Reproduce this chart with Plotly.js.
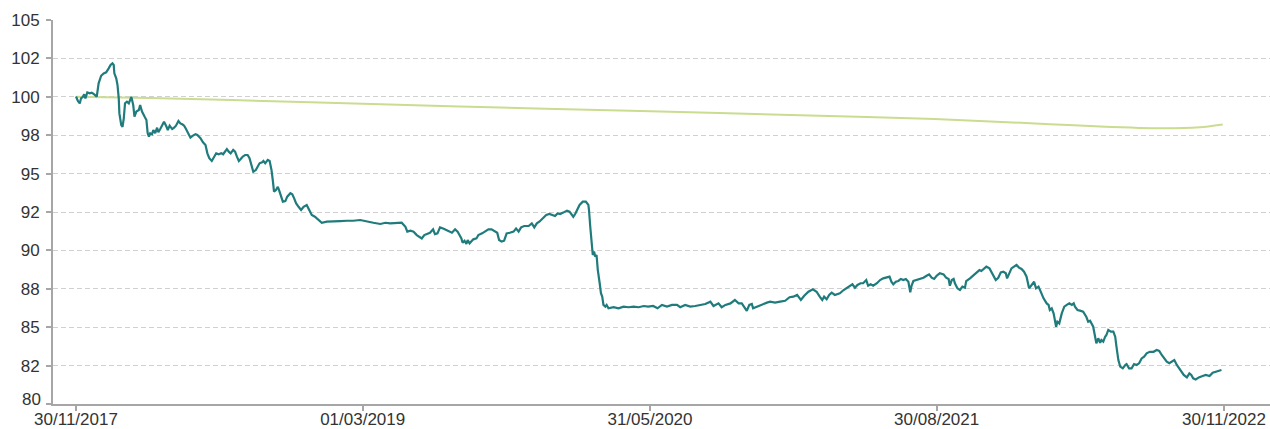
<!DOCTYPE html>
<html>
<head>
<meta charset="utf-8">
<script src="https://cdn.plot.ly/plotly-3.0.1.min.js"></script>
<style>html,body{margin:0;padding:0;background:#fff;}#chart{width:1270px;height:429px;}</style>
</head>
<body>
<div id="chart"></div>
<script>
// Days since 30/11/2017 for each reading of the fund line
const fundDays = [0,3,6,8,11,13,15,18,22,25,29,33,36,40,44,48,52,55,58,60,61,64,66,68,69,72,74,76,78,81,84,86,88,91,93,96,100,102,105,109,112,114,116,118,121,123,126,129,131,134,137,140,144,146,149,153,156,159,163,166,169,172,175,179,182,186,190,193,198,202,206,209,212,216,220,223,227,231,234,237,240,243,246,250,253,256,259,262,265,269,273,276,280,282,286,289,292,296,298,301,305,308,311,313,315,318,321,323,326,329,333,336,341,344,347,350,354,358,
362,367,371,375,380,386,391,399,410,420,431,441,452,463,473,484,492,500,510,518,524,527,532,537,542,546,550,554,558,563,568,571,575,579,584,589,594,598,603,607,610,613,615,618,621,623,626,629,632,637,640,646,651,656,661,667,670,673,677,681,685,690,696,700,704,708,713,720,725,729,733,737,743,748,753,758,762,766,770,775,781,785,789,791,794,797,801,806,811,815,816,818,820,822,824,826,828,830,833,835,837,839,842,844,847,855,863,871,879,887,895,903,910,918,925,932,940,948,956,961,969,977,985,993,1001,1009,1014,1022,1027,1033,1041,1048,1054,1059,1063,1067,1071,1075,1077,1083,1091,1099,1104,1112,1120,1128,1135,1141,1147,1153,1158,1165,1172,1178,1183,1187,1190,1194,1198,1202,1207,1213,
1215,1221,1226,1231,1235,1239,1243,1248,1252,1257,1260,1264,1268,1274,1279,1284,1290,1294,1297,1300,1304,1308,1312,1316,1320,1324,1327,1329,1332,1337,1342,1348,1353,1357,1361,1365,1369,1374,1380,1384,1388,1390,1393,1396,1398,1402,1406,1410,1414,1416,1422,1427,1432,1437,1440,1444,1448,1453,1456,1460,1463,1467,1471,1475,1479,1481,1485,1488,1492,1496,1500,1504,1508,1512,1516,1520,1524,1527,1531,1535,
1539,1544,1547,1549,1552,1555,1557,1559,1561,1564,1568,1572,1576,1580,1584,1587,1589,1593,1597,1602,1607,1610,1613,1615,1618,1621,1623,1626,1629,1631,1634,1637,1639,1642,1646,1650,1653,1655,1658,1661,1665,1669,1671,1675,1679,1683,1687,1691,1695,1699,1703,1708,1714,1719,1723,1727,1731,1735,1739,1743,1747,1751,1755,1759,1762,1767,1771,1774,1777,1781,1786,1792,1797,1803,1808,1813,1818,1822];
const fundValues = [100.02,99.73,99.57,99.9,100.0,100.16,99.9,100.29,100.23,100.27,100.16,100.01,100.88,101.37,101.52,101.59,101.85,102.07,102.18,102.07,101.53,101.2,100.77,99.9,98.92,98.16,98.05,98.6,99.58,99.68,99.57,99.79,100.0,99.47,98.71,99.04,99.14,99.47,99.04,98.71,98.49,97.63,97.41,97.63,97.57,97.84,97.63,97.99,97.69,97.9,98.16,98.38,98.05,97.84,98.12,97.9,97.99,98.12,98.42,98.27,98.21,98.12,97.9,97.63,97.34,97.47,97.56,97.51,97.3,97.04,96.86,96.32,96.0,95.82,96.1,96.32,96.26,96.32,96.26,96.43,96.6,96.43,96.32,96.54,96.43,96.1,95.82,95.95,96.1,96.21,96.21,96.0,95.45,95.12,95.23,95.45,95.67,95.73,95.82,95.67,95.89,95.82,95.23,94.58,93.82,93.93,94.14,93.93,93.6,93.17,93.21,93.5,93.72,93.65,93.39,93.07,92.84,92.63,
92.84,92.96,92.63,92.3,92.19,91.98,91.8,91.87,91.91,91.91,91.93,91.93,91.98,91.91,91.8,91.72,91.8,91.76,91.8,91.8,91.54,91.22,91.28,91.22,91.0,90.89,90.78,91.0,91.06,91.15,91.37,91.06,91.11,91.5,91.43,91.33,91.22,91.15,91.37,91.22,91.0,90.78,90.5,90.63,90.42,90.68,90.46,90.63,90.72,90.78,91.0,91.11,91.22,91.37,91.37,91.22,91.15,90.68,90.57,90.63,91.11,91.15,91.22,91.43,91.22,91.5,91.59,91.59,91.76,91.5,91.76,91.87,92.09,92.3,92.37,92.3,92.24,92.41,92.37,92.46,92.59,92.52,92.3,92.19,92.37,92.67,92.96,93.17,93.17,92.96,92.63,91.54,90.46,89.7,89.92,89.59,89.7,88.72,87.86,87.21,86.99,86.45,86.34,86.45,86.23,86.3,86.23,86.34,86.3,86.34,86.3,86.38,86.34,86.38,86.23,86.45,86.34,86.45,86.45,86.3,86.45,86.34,86.38,86.45,86.51,86.66,86.38,86.55,86.3,86.45,86.55,86.77,86.55,86.55,86.34,86.07,86.45,86.51,86.23,86.34,86.45,86.6,86.66,86.6,86.66,86.72,86.95,86.99,87.1,86.77,87.03,87.31,87.47,87.31,86.99,86.77,86.99,86.82,87.1,87.25,87.1,87.21,
87.21,87.42,87.57,87.7,87.79,87.57,87.75,87.86,87.86,88.07,87.7,87.79,87.7,87.86,88.07,88.18,88.22,88.29,87.96,87.79,87.96,88.01,88.14,88.07,88.14,87.96,87.27,87.7,88.01,88.07,88.14,88.22,88.35,88.44,88.22,88.14,88.35,88.51,88.44,88.22,88.14,87.7,88.07,88.14,87.86,87.53,87.42,87.64,87.57,88.0,88.18,88.35,88.51,88.72,88.66,88.79,88.94,88.83,88.57,88.29,88.07,88.22,88.57,88.61,88.51,88.18,88.61,88.83,88.94,89.05,88.88,88.79,88.61,88.29,87.53,87.79,87.96,87.53,87.64,87.27,
86.88,86.55,86.45,86.12,86.23,85.9,85.47,85.03,85.36,85.25,85.9,86.34,86.45,86.55,86.45,86.55,86.34,86.12,86.08,86.01,85.68,85.36,85.42,85.25,85.03,84.38,83.95,84.28,83.99,84.17,84.06,84.38,84.49,84.82,84.71,84.71,84.38,83.73,82.86,82.43,82.32,82.54,82.6,82.32,82.32,82.6,82.54,82.65,82.97,83.08,83.3,83.4,83.4,83.52,83.46,83.19,82.97,82.75,82.65,82.75,82.86,82.54,82.32,82.1,81.89,81.73,81.99,81.89,81.67,81.6,81.73,81.82,81.89,81.82,82.04,82.1,82.17,82.21];

// Days since 30/11/2017 for the benchmark line
const benchDays = [0,118,373,595,898,1152,1366,1549,1629,1724,1788,1824];
const benchValues = [100.0,99.93,99.64,99.38,99.07,98.8,98.55,98.22,98.07,97.95,98.02,98.2];

const yTickVals = [80,82.5,85,87.5,90,92.5,95,97.5,100,102.5,105];
const yTickText = ['80','82','85','88','90','92','95','98','100','102','105'];
const xTickDates = ['2017-11-30','2019-03-01','2020-05-31','2021-08-30','2022-11-30'];
const xTickText = ['30/11/2017','01/03/2019','31/05/2020','30/08/2021','30/11/2022'];

const base = Date.UTC(2017, 10, 30);
const toDate = d => new Date(base + d * 864e5).toISOString().slice(0, 10);

const FS = 17;
const tickColor = '#333333';

const traces = [
  {x: benchDays.map(toDate), y: benchValues, type: 'scatter', mode: 'lines',
   line: {color: '#c9dc90', width: 2, shape: 'spline', smoothing: 0.6}, hoverinfo: 'skip'},
  {x: fundDays.map(toDate), y: fundValues, type: 'scatter', mode: 'lines',
   line: {color: '#1f7b7c', width: 2.2}, hoverinfo: 'skip'}
];

// the bottom y label sits in the corner next to the first date label;
// it is drawn as an annotation nudged up a little so the two labels do not collide
const axisYText = yTickText.map((t, i) => (i === 0 ? '' : t));

const layout = {
  width: 1270, height: 429,
  margin: {l: 53, r: 0, t: 20, b: 25, pad: 0},
  paper_bgcolor: '#ffffff', plot_bgcolor: '#ffffff',
  showlegend: false,
  font: {family: 'Liberation Sans, Arial, sans-serif', size: FS, color: tickColor},
  xaxis: {
    type: 'date', range: ['2017-10-24 10:00', '2023-02-11 05:00'],
    tickmode: 'array', tickvals: xTickDates, ticktext: xTickText,
    showgrid: false, zeroline: false,
    showline: true, linecolor: '#a6a6a6', linewidth: 2,
    ticks: 'outside', ticklen: 5, tickcolor: '#a6a6a6', tickwidth: 2,
    ticklabelstandoff: -6,
    tickfont: {size: FS, color: tickColor}, automargin: false
  },
  yaxis: {
    range: [80, 105], tickmode: 'array', tickvals: yTickVals, ticktext: axisYText,
    showgrid: true, gridcolor: '#d0d0d0', gridwidth: 1, griddash: '5px,3px',
    zeroline: false, showline: true, linecolor: '#a6a6a6', linewidth: 2,
    ticks: 'outside', ticklen: 5, tickcolor: '#a6a6a6', tickwidth: 2,
    ticklabelstandoff: 3,
    tickfont: {size: FS, color: tickColor}, automargin: false
  },
  annotations: [{
    text: yTickText[0], xref: 'paper', x: 0, yref: 'y', y: yTickVals[0],
    xanchor: 'right', yanchor: 'middle', xshift: -11.5, yshift: 5,
    showarrow: false, borderpad: 0, font: {size: FS, color: tickColor}
  }]
};

Plotly.newPlot('chart', traces, layout, {staticPlot: true, displayModeBar: false});
</script>
</body>
</html>
